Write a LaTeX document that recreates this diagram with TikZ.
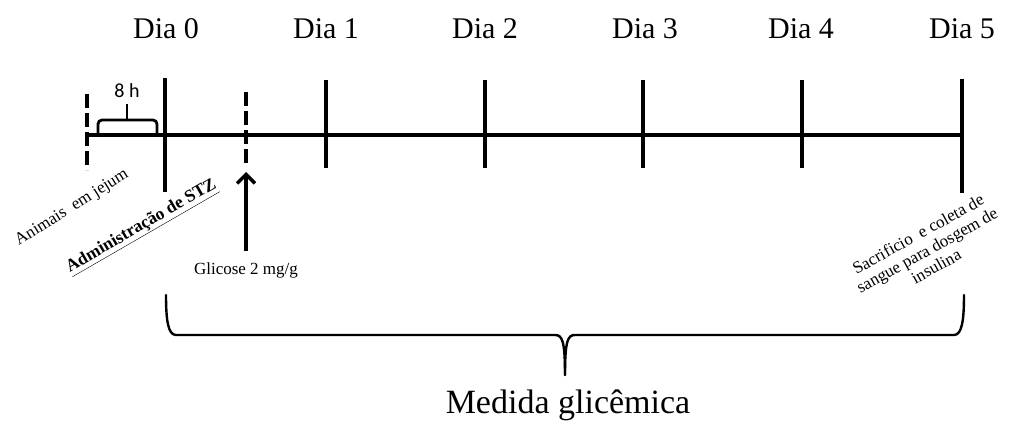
\documentclass[tikz,border=0pt]{standalone}
\usepackage{fontspec}
\setmainfont{Liberation Serif}
\newfontfamily\calib{Carlito}
\usetikzlibrary{arrows.meta}
\begin{document}
\begin{tikzpicture}[x=1pt,y=-1pt,
  tick/.style={line width=3.6pt},
  dtick/.style={line width=3.6pt,dash pattern=on 14pt off 5pt},
  axis/.style={line width=3.8pt},
  daylbl/.style={font=\fontsize{30}{32}\selectfont,inner sep=0pt},
  small/.style={font=\fontsize{16.5}{17}\selectfont,inner sep=0pt},
  brc/.style={line width=2.4pt,line join=round,line cap=round}]
\useasboundingbox (0,0) rectangle (1013,425);
% day labels
\node[daylbl] (l0) at (166,29) {Dia 0};
\node[daylbl] (l1) at (326,29) {Dia 1};
\node[daylbl] (l2) at (485,29) {Dia 2};
\node[daylbl] (l3) at (645,29) {Dia 3};
\node[daylbl] (l4) at (801,29) {Dia 4};
\node[daylbl] (l5) at (962,29) {Dia 5};
% axis
\coordinate (a0) at (85,135);
\coordinate (a1) at (964,135);
\draw[axis] (a0) -- (a1);
% ticks
\coordinate (t0a) at (165,78);  \coordinate (t0b) at (165,192);
\coordinate (t1a) at (326,80);  \coordinate (t1b) at (326,168);
\coordinate (t2a) at (485,80);  \coordinate (t2b) at (485,168);
\coordinate (t3a) at (643,80);  \coordinate (t3b) at (643,168);
\coordinate (t4a) at (802,80);  \coordinate (t4b) at (802,168);
\coordinate (t5a) at (962,79);  \coordinate (t5b) at (962,193);
\foreach \i in {0,...,5} {\draw[tick] (t\i a) -- (t\i b);}
% dashed ticks
\coordinate (f0a) at (87,94);  \coordinate (f0b) at (87,170);
\coordinate (g0a) at (246,92); \coordinate (g0b) at (246,167);
\draw[dtick] (f0a) -- (f0b);
\draw[dtick] (g0a) -- (g0b);
% 8 h brace
\coordinate (b8l) at (98,133);
\coordinate (b8r) at (157,133);
\coordinate (b8m) at (127,120);
\coordinate (b8t) at (127,104);
\draw[line width=2.8pt,rounded corners=4pt] (b8l) -- (98,120) -- (157,120) -- (b8r);
\draw[line width=2.8pt] (b8m) -- (b8t);
\node[font=\calib\fontsize{20}{22}\selectfont,inner sep=0pt] (h8) at (127,91) {8 h};
% arrow glucose
\node[inner sep=0pt,font=\fontsize{17}{18}\selectfont] (glc) at (246,270) {Glicose 2 mg/g};
\coordinate (arrS) at (246,251);
\coordinate (arrE) at (246,172);
\draw[line width=3.2pt,-{Straight Barb[length=9pt,width=18pt,line width=3.4pt]}] (arrS) -- (arrE);
% rotated labels
\node[inner sep=0pt,rotate=32,font=\fontsize{17}{18}\selectfont] (jej) at (72,208) {Animais\ \ em jejum};
\node[inner sep=0pt,rotate=30,font=\bfseries\fontsize{17.5}{18}\selectfont] (stz) at (142,227) {\underline{Administração de STZ}};
\node[inner sep=0pt,rotate=29,align=center,font=\fontsize{17}{18.5}\selectfont] (sac) at (927,250) {Sacrificio\ \ e coleta de\\sangue para dosgem de\\insulina};
% bottom brace
\coordinate (bl) at (166,295);
\coordinate (br) at (964,295);
\coordinate (bm) at (565,375);
\draw[brc] (bl) .. controls (166,320) and (168,335) .. (176,335) -- (555,335)
  .. controls (562,335) and (565,340) .. (bm);
\draw[brc] (br) .. controls (964,320) and (962,335) .. (954,335) -- (575,335)
  .. controls (568,335) and (565,340) .. (bm);
\node[inner sep=0pt,font=\fontsize{34}{36}\selectfont] (med) at (568,405) {Medida glicêmica};
\end{tikzpicture}
\end{document}
